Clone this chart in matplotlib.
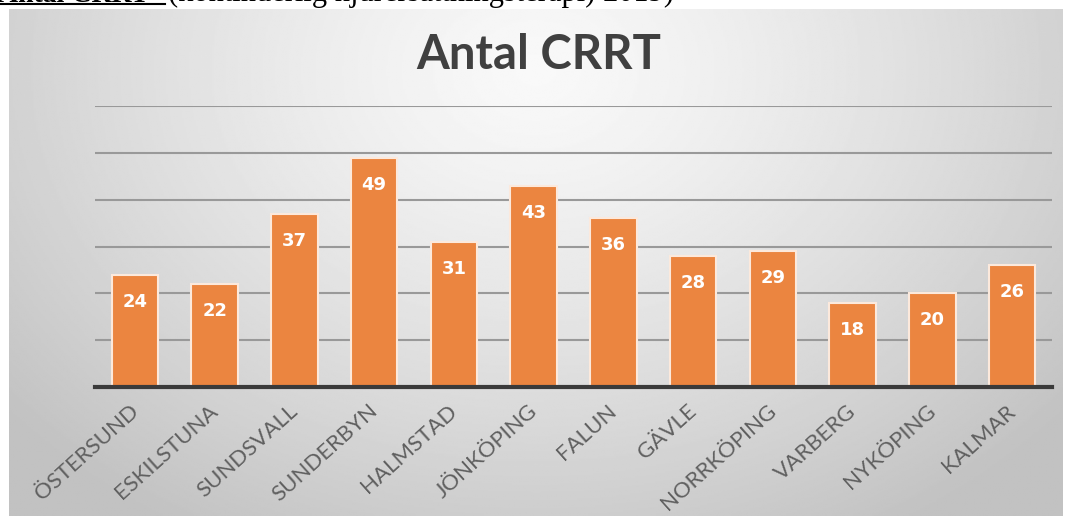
import numpy as np
import matplotlib.pyplot as plt
import matplotlib.transforms as mtransforms

# CRRT counts per hospital
hospitals = ["ÖSTERSUND", "ESKILSTUNA", "SUNDSVALL", "SUNDERBYN", "HALMSTAD", "JÖNKÖPING",
             "FALUN", "GÄVLE", "NORRKÖPING", "VARBERG", "NYKÖPING", "KALMAR"]
crrt = [24, 22, 37, 49, 31, 43, 36, 28, 29, 18, 20, 26]

W, H = 1077, 516
fig = plt.figure(figsize=(W / 100, H / 100), dpi=100)
fig.patch.set_facecolor("white")

# grey panel with a soft radial gradient, lightest near the top centre
bg = fig.add_axes([9 / W, 0, (1063 - 9) / W, 1 - 9 / H])
bg.set_axis_off()
yy, xx = np.mgrid[0:1:300j, 0:1:600j]
r = np.sqrt(((xx - 0.5) / 0.62) ** 2 + ((yy - 0.12) / 1.0) ** 2)
shade = np.clip(0.975 - 0.2 * r ** 1.3, 0.76, 0.98)
bg.imshow(shade, cmap="gray", vmin=0, vmax=1, aspect="auto", extent=[0, 1, 1, 0])

# heading line above the chart (cut off at the top edge)
fig.text(-2 / W, 1 - 1.5 / H, "Antal CRRT", family="Liberation Serif", fontweight="bold",
         fontsize=20, va="baseline", ha="left", color="black")
fig.text(168 / W, 1 - 1.5 / H, "(kontinuerlig njurersättningsterapi) 2019)",
         family="Liberation Serif", fontsize=22, va="baseline", ha="left", color="black")
fig.add_artist(plt.Line2D([0, 165 / W], [1 - 4 / H, 1 - 4 / H], color="black", lw=1.5,
                          transform=fig.transFigure))

ax = fig.add_axes([95 / W, 1 - 387 / H, 957 / W, (387 - 106) / H])
ax.patch.set_alpha(0)
x = np.arange(len(hospitals))
bars = ax.bar(x, crrt, width=0.58, color="#EB8540", edgecolor="#FCE9DC", linewidth=1.5, zorder=3)

ax.set_xlim(-0.5, len(hospitals) - 0.5)
ax.set_ylim(0, 60)
ax.set_yticks(np.arange(10, 61, 10))
ax.yaxis.grid(True, color="#999999", linewidth=1.5, zorder=0)
ax.tick_params(axis="y", length=0, labelleft=False)
ax.tick_params(axis="x", length=0, pad=10)
for side in ["top", "right", "left"]:
    ax.spines[side].set_visible(False)
ax.spines["bottom"].set_color("#3a3a3a")
ax.spines["bottom"].set_linewidth(3)
ax.spines["bottom"].set_zorder(4)

ax.set_xticks(x)
ax.set_xticklabels(hospitals, rotation=42, ha="right", rotation_mode="anchor",
                   family="Lato", fontsize=16, color="#606060")
# nudge the slanted labels a little to the left
shift = mtransforms.ScaledTranslation(-6 / 100, 0, fig.dpi_scale_trans)
for lbl in ax.get_xticklabels():
    lbl.set_transform(lbl.get_transform() + shift)

for xi, v in zip(x, crrt):
    ax.annotate(str(v), (xi, v), xytext=(0, -27), textcoords="offset pixels",
                ha="center", va="center", color="white", fontweight="bold",
                family="DejaVu Sans", fontsize=13, zorder=5)

fig.text(0.5, 1 - 55 / H, "Antal CRRT", ha="center", va="center", family="Lato",
         fontweight="bold", fontsize=34, color="#404040")

fig.savefig("out.png", dpi=100)
